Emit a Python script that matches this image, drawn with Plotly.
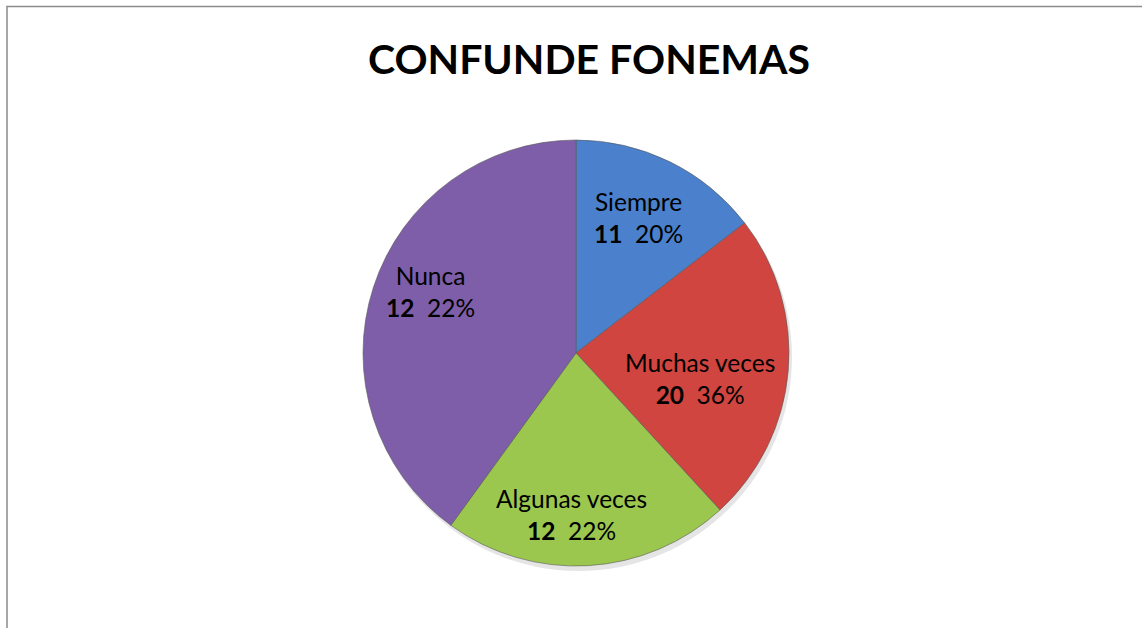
import plotly.graph_objects as go

# Data
categories = ["Siempre", "Muchas veces", "Algunas veces", "Nunca"]
slice_values = [8, 13, 12, 22]          # sizes of drawn slices
label_counts = [11, 20, 12, 12]         # counts printed in labels
label_percents = [20, 36, 22, 22]       # percents printed in labels
colors = ["#4A80CC", "#D0453F", "#9BC74E", "#7E5EA8"]

W, H = 1142, 628
cx, cy, r = 576, 353, 213

fig = go.Figure()
fig.add_trace(go.Pie(
    labels=categories,
    values=slice_values,
    sort=False,
    direction="clockwise",
    rotation=0,
    marker=dict(colors=colors, line=dict(color="#5a5a5a", width=0.6)),
    textinfo="none",
    hoverinfo="label+value",
    showlegend=False,
    domain=dict(x=[(cx - r) / W, (cx + r) / W], y=[1 - (cy + r) / H, 1 - (cy - r) / H]),
))

label_pos = [(638, 217), (700, 378), (571, 514), (430, 291)]
for cat, cnt, pct, (px, py) in zip(categories, label_counts, label_percents, label_pos):
    fig.add_annotation(
        x=px / W, y=1 - py / H, xref="paper", yref="paper",
        text=f"{cat}<br><b>{cnt}</b>&nbsp;&nbsp;{pct}%",
        showarrow=False, align="center",
        font=dict(family="Lato, Open Sans, sans-serif", size=24.5, color="#000000"),
        xanchor="center", yanchor="middle",
    )

# soft shadow under pie
fig.add_shape(type="circle", xref="paper", yref="paper",
              x0=(cx - r + 2) / W, x1=(cx + r + 3) / W,
              y0=1 - (cy + r + 5) / H, y1=1 - (cy - r + 3) / H,
              line=dict(width=0), fillcolor="rgba(0,0,0,0.10)", layer="below")

fig.add_shape(type="rect", xref="paper", yref="paper",
              x0=7 / W, x1=1.01, y0=-0.02, y1=1 - 6.5 / H,
              line=dict(color="#8c8c8c", width=1.5), fillcolor="rgba(0,0,0,0)", layer="below")

fig.update_layout(
    width=W, height=H,
    margin=dict(l=0, r=0, t=0, b=0),
    paper_bgcolor="white", plot_bgcolor="white",
    title=dict(text="<b>CONFUNDE FONEMAS</b>", x=589 / W, y=1 - 60 / H,
               xanchor="center", yanchor="middle",
               font=dict(family="Lato, Open Sans, sans-serif", size=41, color="#000000")),
)

fig.write_html("out.html", config={"displayModeBar": False},
               post_script="document.body.style.margin='0';")
